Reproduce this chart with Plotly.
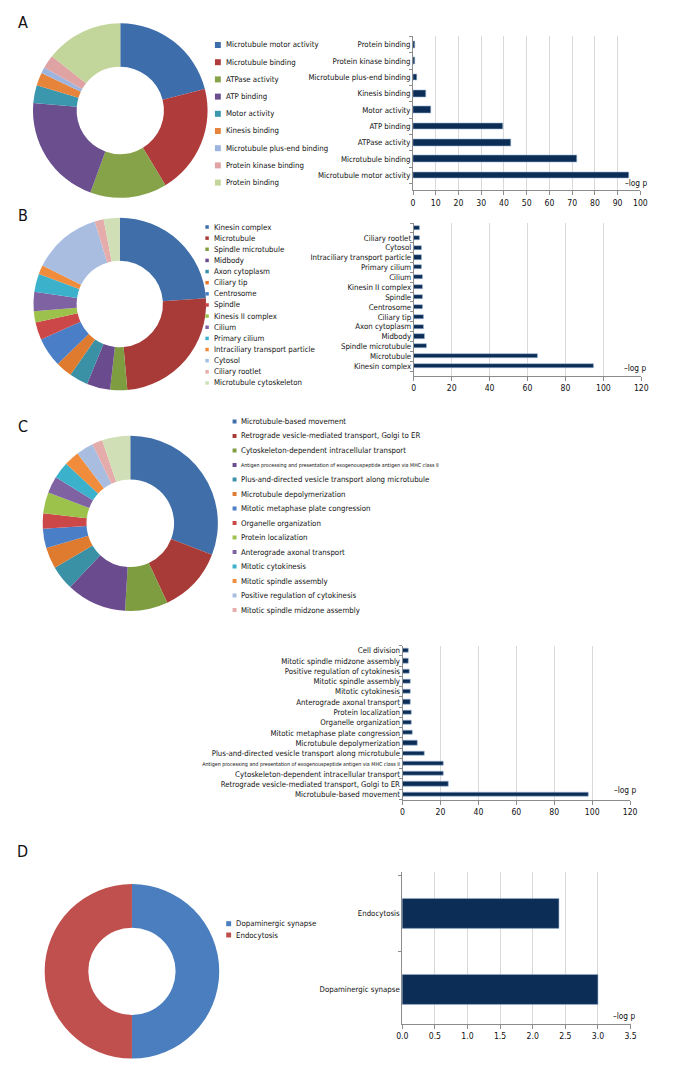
import plotly.graph_objects as go

W, H = 680, 1080
FONT = "Liberation Sans Narrow, Arial Narrow, DejaVu Sans Condensed, sans-serif"
TXT = "#111111"
BAR = "#0b2d56"
GRID = "#d9d9d9"
AXC = "#8c8c8c"
FS = 7.8        # label font size
FS_TICK = 8.6   # numeric tick font size
FS_SMALL = 5.3  # squeezed long label

# ---------------- data ----------------
# Panel A (molecular function)
a_labels = ["Microtubule motor activity", "Microtubule binding", "ATPase activity", "ATP binding",
            "Motor activity", "Kinesis binding", "Microtubule plus-end binding",
            "Protein kinase binding", "Protein binding"]
a_share = [21, 20.3, 14.2, 20.8, 3.3, 2.4, 1.1, 2.5, 14.3]
a_logp = [95, 72, 43, 39.5, 7.8, 5.8, 1.7, 1.0, 1.0]
a_colors = ["#3d6dab", "#b03b3b", "#86a34a", "#6a4e8e", "#3a97ad", "#e5843a", "#9db4de", "#e0a3a3", "#c2d69b"]

# Panel B (cellular component)
b_labels = ["Kinesin complex", "Microtubule", "Spindle microtubule", "Midbody", "Axon cytoplasm",
            "Ciliary tip", "Centrosome", "Spindle", "Kinesis II complex", "Cilium", "Primary cilium",
            "Intraciliary transport particle", "Cytosol", "Ciliary rootlet", "Microtubule cytoskeleton"]
b_share = [24, 24.7, 3.2, 4.4, 3.5, 3.1, 5.5, 3.3, 2.1, 3.6, 3.4, 1.7, 13, 1.7, 3]
b_bar_labels = ["Kinesin complex", "Microtubule", "Spindle microtubule", "Midbody", "Axon cytoplasm",
                "Ciliary tip", "Centrosome", "Spindle", "Kinesin II complex", "Cilium", "Primary cilium",
                "Intraciliary transport particle", "Cytosol", "Ciliary rootlet", ""]
b_logp = [95, 65.5, 6.9, 6.0, 5.3, 5.2, 4.8, 4.8, 4.5, 4.5, 4.1, 4.1, 4.1, 3.1, 3.1]

# Panel C (biological process)
c_labels = ["Microtubule-based movement", "Retrograde vesicle-mediated transport, Golgi to ER",
            "Cytoskeleton-dependent intracellular transport",
            "Antigen processing and presentation of exogenouspeptide antigen via MHC class II",
            "Plus-and-directed vesicle transport along microtubule", "Microtubule depolymerization",
            "Mitotic metaphase plate congression", "Organelle organization", "Protein localization",
            "Anterograde axonal transport", "Mitotic cytokinesis", "Mitotic spindle assembly",
            "Positive regulation of cytokinesis", "Mitotic spindle midzone assembly", "Cell division"]
c_share = [30.9, 12.2, 7.9, 11.1, 4.5, 3.9, 3.6, 2.8, 3.9, 3.1, 3.1, 2.8, 3.2, 1.9, 5.2]
c_logp = [98.3, 24.1, 21.7, 21.4, 11.6, 7.9, 5.2, 4.8, 4.5, 4.1, 4.1, 4.0, 3.8, 3.4, 3.4]
c_legend_count = 14

# Panel D (pathway)
d_labels = ["Dopaminergic synapse", "Endocytosis"]
d_share = [50, 50]
d_logp = [3.0, 2.4]
d_colors = ["#4a7ebf", "#c0504d"]

bc_colors = ["#3f6ea8", "#a83b38", "#7e9c40", "#6a4b8d", "#3a91a6", "#df7b2e", "#4a7ec7", "#cc4848",
             "#9dc24c", "#7f62a2", "#3cb1cc", "#f08c3c", "#a8bde0", "#e4adab", "#d0dfb5"]


def fx(px):
    return px / W


def fy(py):
    return 1 - py / H


fig = go.Figure()
shapes = []
annots = []


def add_pie(labels, values, colors, cx, cy, r):
    fig.add_trace(go.Pie(labels=labels, values=values, hole=0.5, sort=False, direction="clockwise",
                         rotation=0, textinfo="none", showlegend=False,
                         marker=dict(colors=colors, line=dict(width=0)),
                         domain=dict(x=[fx(cx - r), fx(cx + r)], y=[fy(cy + r), fy(cy - r)])))


def add_legend(labels, colors, mx, y0, dy, msize, fsize, special=None):
    for i, (lab, col) in enumerate(zip(labels, colors)):
        y = y0 + i * dy
        shapes.append(dict(type="rect", xref="paper", yref="paper",
                           x0=fx(mx - msize / 2), x1=fx(mx + msize / 2),
                           y0=fy(y + msize / 2), y1=fy(y - msize / 2),
                           fillcolor=col, line=dict(width=0)))
        fs = fsize
        if special and lab in special:
            fs = special[lab]
        annots.append(dict(text=lab, x=fx(mx + msize / 2 + 3), y=fy(y), xref="paper", yref="paper",
                           xanchor="left", yanchor="middle", showarrow=False,
                           font=dict(family=FONT, size=fs, color=TXT)))


def add_bar(idx, cats, ticklabels, vals, x0px, x1px, xmax, dtick, ytop, ybot, yrange, width,
            logp_pos, special=None):
    xa = "x" if idx == 1 else f"x{idx}"
    ya = "y" if idx == 1 else f"y{idx}"
    fig.add_trace(go.Bar(orientation="h", x=vals, y=cats, width=width, xaxis=xa, yaxis=ya,
                         marker=dict(color=BAR, line=dict(color="#9db6d3", width=0.6)),
                         showlegend=False))
    ttext = []
    for t in ticklabels:
        if special and t in special:
            ttext.append(f"<span style='font-size:{special[t]}px'>{t}</span>")
        else:
            ttext.append(t)
    kx = "xaxis" if idx == 1 else f"xaxis{idx}"
    ky = "yaxis" if idx == 1 else f"yaxis{idx}"
    fig.layout[kx] = dict(domain=[fx(x0px), fx(x1px)], range=[0, xmax], dtick=dtick, anchor=ya,
                          showgrid=True, gridcolor=GRID, gridwidth=1, zeroline=False,
                          showline=True, linecolor=AXC, linewidth=1, ticks="outside", ticklen=4,
                          tickcolor=AXC, tickfont=dict(family=FONT, size=FS_TICK, color=TXT),
                          fixedrange=True)
    fig.layout[ky] = dict(domain=[fy(ybot), fy(ytop)], type="category", range=yrange, anchor=xa,
                          tickmode="array", tickvals=cats, ticktext=ttext,
                          showline=True, linecolor=AXC, linewidth=1, ticks="outside",
                          tickson="boundaries", ticklen=3, tickcolor=AXC, showgrid=False,
                          tickfont=dict(family=FONT, size=FS, color=TXT), fixedrange=True)
    annots.append(dict(text="–log p", x=fx(logp_pos[0]), y=fy(logp_pos[1]), xref="paper", yref="paper",
                       xanchor="center", yanchor="middle", showarrow=False,
                       font=dict(family=FONT, size=FS + 0.5, color=TXT)))


# ---------------- Panel A ----------------
add_pie(a_labels, a_share, a_colors, 116.5, 110.5, 89)
add_legend(a_labels, a_colors, 216, 45, 17.2, 6, FS)
add_bar(1, a_labels, a_labels, a_logp, 415, 646.7, 100, 10, 36.3, 190.3, [-0.92, 8.51], 0.4,
        (642, 183))

# ---------------- Panel B ----------------
add_pie(b_labels, b_share, bc_colors, 116, 304, 88)
add_legend(b_labels, bc_colors, 205, 227, 11.14, 3.5, FS)
add_bar(2, b_labels, b_bar_labels, b_logp, 415.7, 647.7, 120, 20, 223, 376, [-1.0, 14.5], 0.42,
        (641, 368))

# ---------------- Panel C ----------------
antigen = c_labels[3]
add_pie(c_labels, c_share, bc_colors, 126.7, 523.3, 89.3)
add_legend(c_labels[:c_legend_count], bc_colors[:c_legend_count], 233, 421.5, 14.5, 4, FS,
           special={antigen: FS_SMALL})
add_bar(3, c_labels, c_labels, c_logp, 404.3, 636.3, 120, 20, 645.5, 799.5, [-0.5, 14.5], 0.42,
        (631, 790), special={antigen: FS_SMALL})

# ---------------- Panel D ----------------
add_pie(d_labels, d_share, d_colors, 128.4, 971.3, 89)
add_legend(d_labels, d_colors, 227, 923.7, 11.3, 5, FS)
add_bar(4, d_labels, d_labels, d_logp, 404, 636.7, 3.5, 0.5, 871.7, 1024, [-0.45, 1.55], 0.4,
        (630, 1016))
fig.layout.xaxis4.tickformat = ".1f"

# panel letters
for letter, (lx, ly) in zip(["A", "B", "C", "D"], [(17, 22.5), (17, 215), (17, 426.5), (17, 851.5)]):
    annots.append(dict(text=letter, x=fx(lx), y=fy(ly), xref="paper", yref="paper", xanchor="center",
                       yanchor="middle", showarrow=False, font=dict(family=FONT, size=16, color="#111")))

fig.update_layout(width=W, height=H, margin=dict(l=0, r=0, t=0, b=0), paper_bgcolor="white",
                  plot_bgcolor="white", shapes=shapes, annotations=annots, bargap=0,
                  font=dict(family=FONT, color=TXT))

post = ("document.documentElement.style.overflow='hidden';"
        "document.body.style.overflow='hidden';"
        "document.body.style.margin='0';document.body.style.padding='0';"
        "var gd=document.getElementById('{plot_id}');"
        "if(gd){gd.style.width='680px';gd.style.height='1080px';"
        "Plotly.relayout(gd,{width:680,height:1080});}")
fig.write_html("out.html", config={"displayModeBar": False, "responsive": False}, post_script=post)
